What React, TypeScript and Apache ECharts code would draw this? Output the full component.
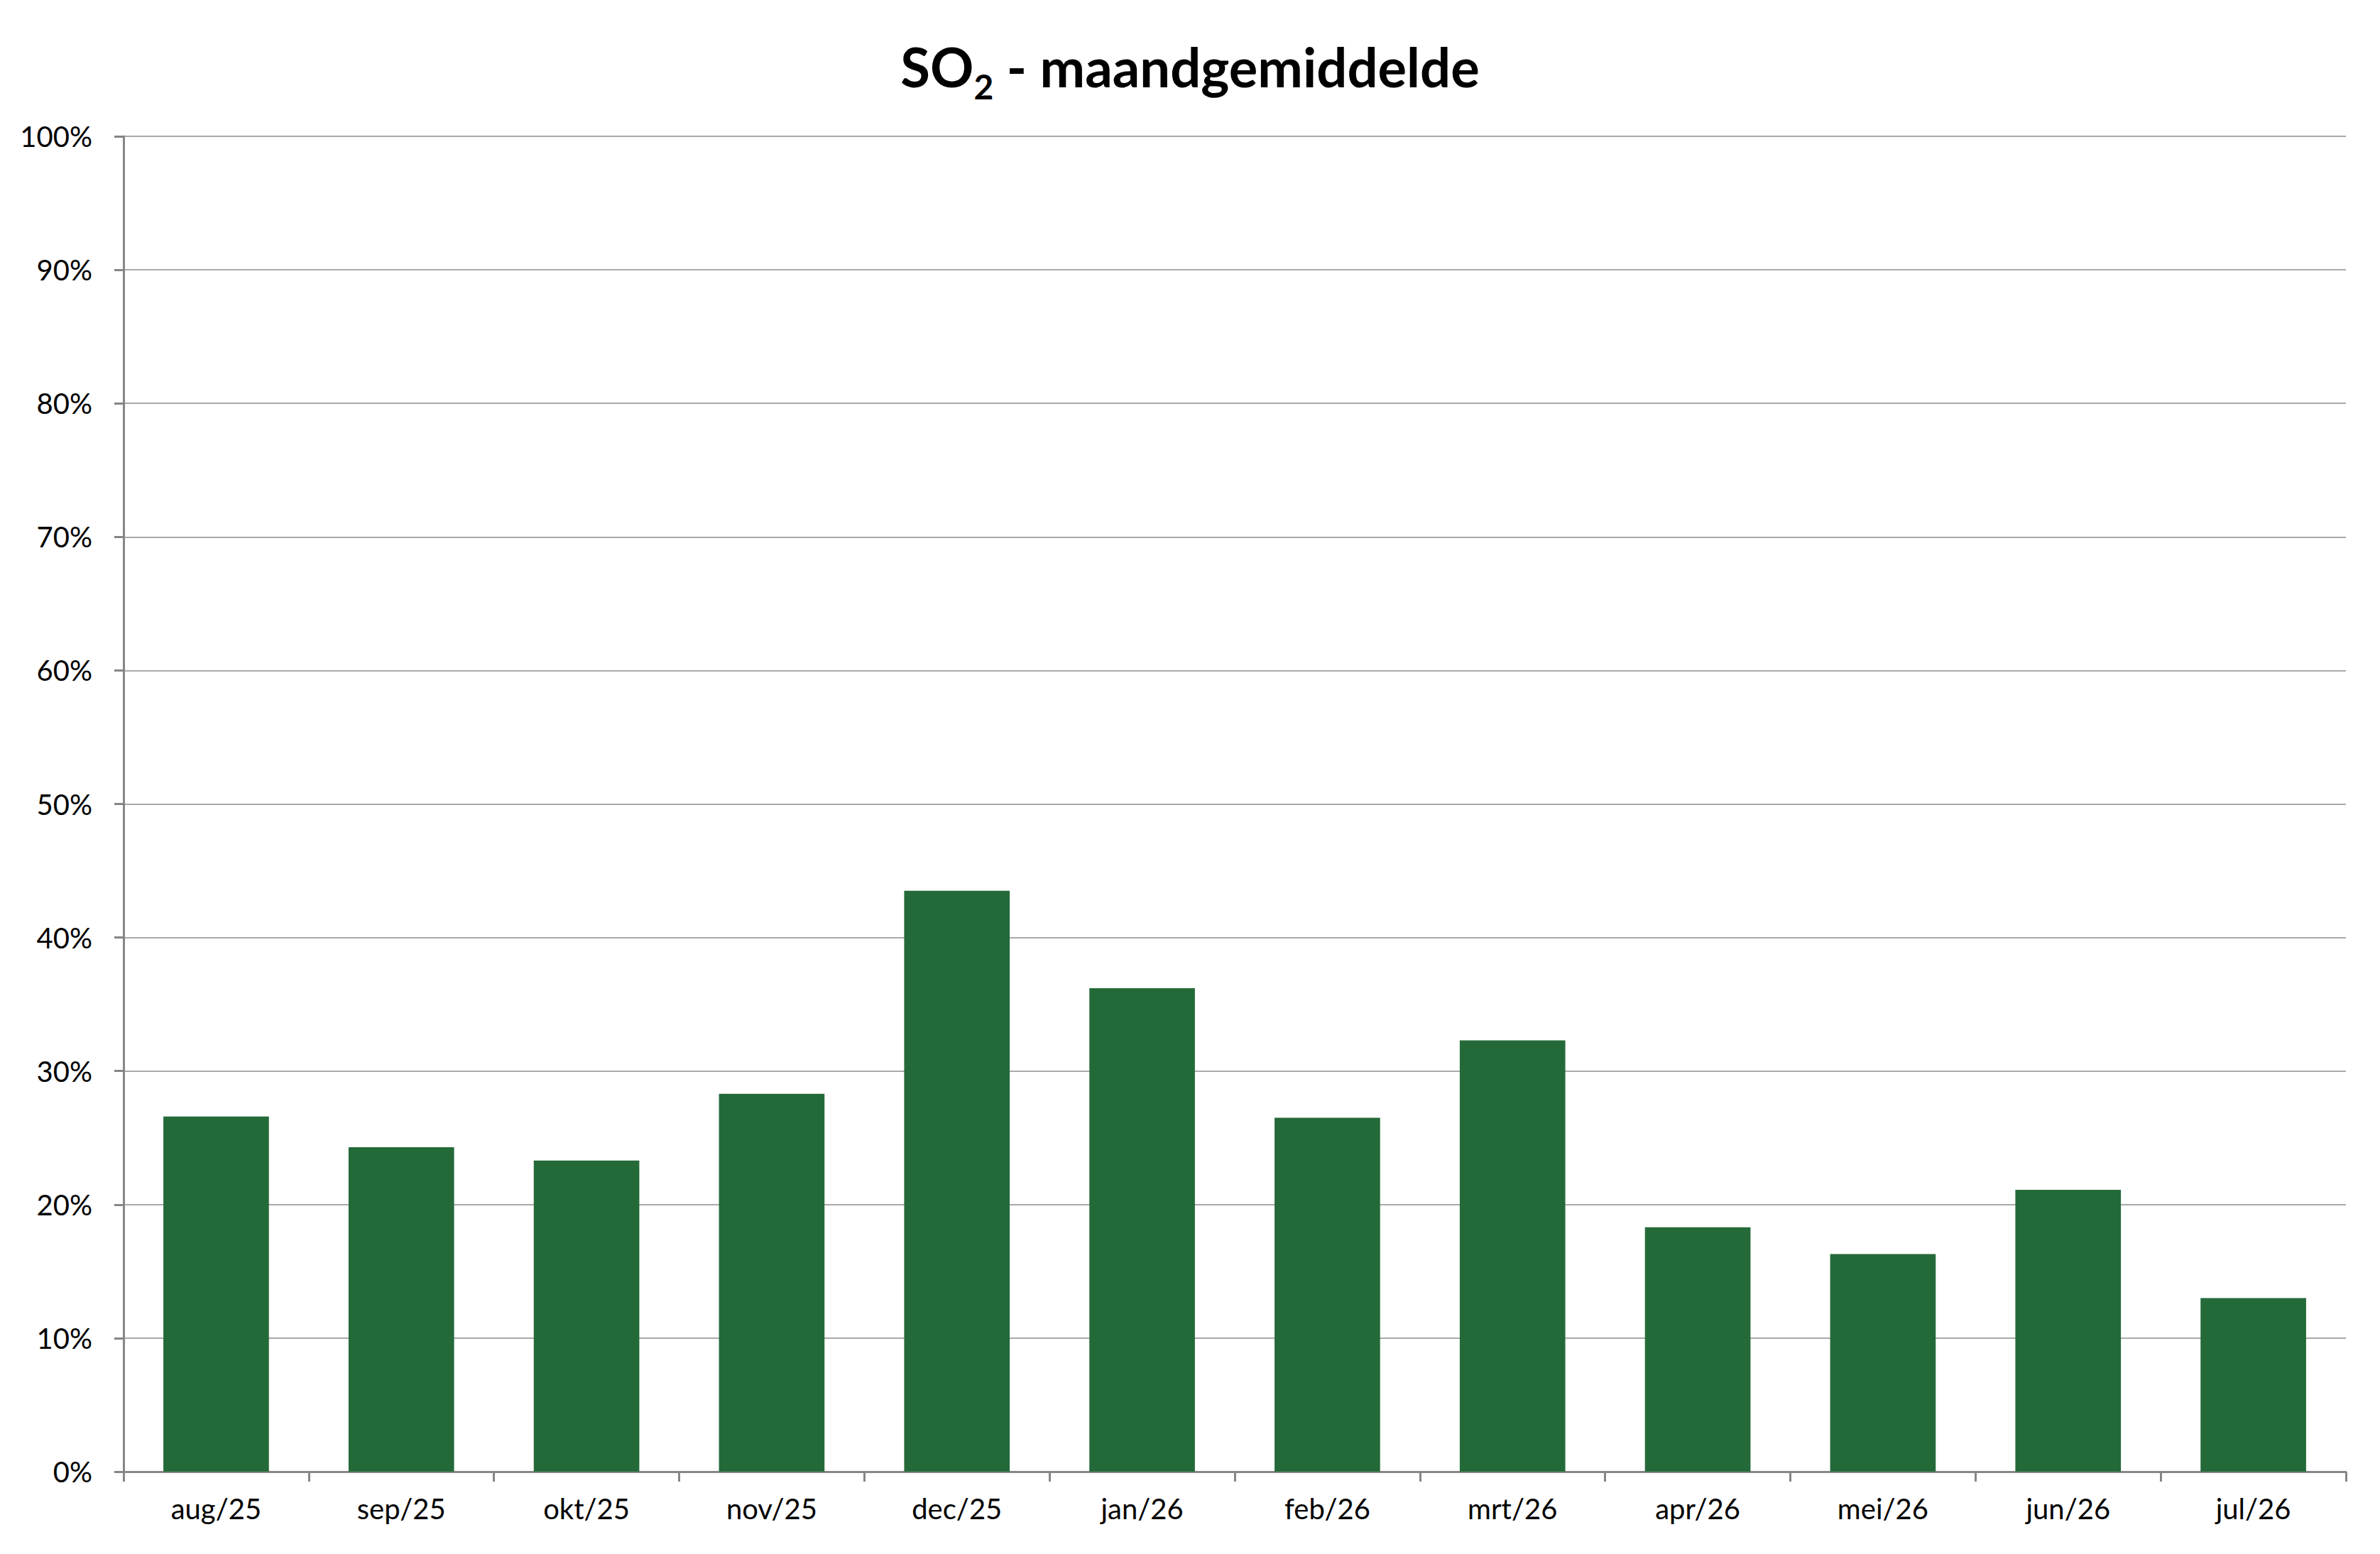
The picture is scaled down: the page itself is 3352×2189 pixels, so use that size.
import React, { useEffect, useRef } from "react";
import * as echarts from "echarts";

const months = ["aug/25", "sep/25", "okt/25", "nov/25", "dec/25", "jan/26", "feb/26", "mrt/26", "apr/26", "mei/26", "jun/26", "jul/26"];
const so2Values = [26.6, 24.3, 23.3, 28.3, 43.5, 36.2, 26.5, 32.3, 18.3, 16.3, 21.1, 13.0];
const yMin = 0;
const yMax = 100;
const yStep = 10;

const FONT = "Lato";
const AXIS_GREY = "#868686";

export default function App() {
  const ref = useRef<HTMLDivElement>(null);
  useEffect(() => {
    document.body.style.margin = "0";
    if (!ref.current) return;
    const chart = echarts.init(ref.current, null, { renderer: "svg" });
    chart.setOption({
      animation: false,
      backgroundColor: "#ffffff",
      title: {
        text: "{a|SO}{sub|2}{a| - maandgemiddelde}",
        left: "center",
        top: 36,
        textStyle: {
          rich: {
            a: { fontFamily: FONT, fontWeight: "bold", fontSize: 76, color: "#000" },
            sub: { fontFamily: FONT, fontWeight: "bold", fontSize: 48, color: "#000", padding: [56, 0, 0, 0] },
          },
        },
      },
      grid: { left: 174, right: 48, top: 192, bottom: 116, containLabel: false },
      xAxis: {
        type: "category",
        data: months,
        boundaryGap: true,
        axisLine: { show: true, lineStyle: { color: AXIS_GREY, width: 3 } },
        axisTick: { show: true, length: 14, alignWithLabel: false, lineStyle: { color: AXIS_GREY, width: 3 } },
        axisLabel: { fontFamily: FONT, fontSize: 40, color: "#000", margin: 32 },
        splitLine: { show: false },
      },
      yAxis: {
        type: "value",
        min: yMin,
        max: yMax,
        interval: yStep,
        axisLine: { show: true, lineStyle: { color: AXIS_GREY, width: 3 } },
        axisTick: { show: true, length: 13, lineStyle: { color: AXIS_GREY, width: 3 } },
        axisLabel: { fontFamily: FONT, fontSize: 40, color: "#000", margin: 44, formatter: "{value}%" },
        splitLine: { show: true, lineStyle: { color: "#8c8c8c", width: 1.5 } },
      },
      series: [
        {
          type: "bar",
          data: so2Values,
          barCategoryGap: "43%",
          itemStyle: { color: "#246A39" },
        },
      ],
    });
    return () => chart.dispose();
  }, []);
  return <div ref={ref} style={{ width: 3352, height: 2189 }} />;
}
